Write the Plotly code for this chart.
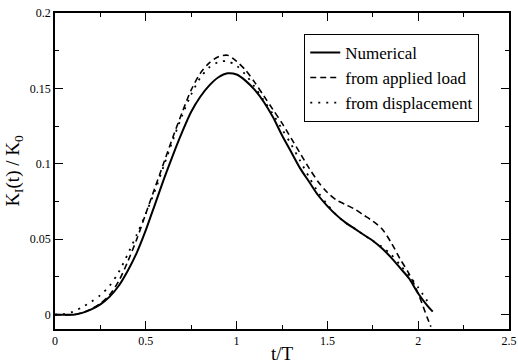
import plotly.graph_objects as go

# --- data ---
t_num = [0, 0.1, 0.15, 0.2, 0.25, 0.3, 0.35, 0.4, 0.45, 0.5, 0.55, 0.6, 0.65, 0.7, 0.75, 0.8,
         0.85, 0.9, 0.95, 1.0, 1.05, 1.1, 1.15, 1.2, 1.25, 1.3, 1.35, 1.4, 1.45, 1.5, 1.55,
         1.6, 1.65, 1.7, 1.75, 1.8, 1.85, 1.9, 1.95, 2.0, 2.05, 2.08]
k_num = [0, 0, 0.0012, 0.0035, 0.0068, 0.0118, 0.019, 0.029, 0.041, 0.056, 0.073, 0.090, 0.106,
         0.121, 0.1345, 0.1445, 0.152, 0.1574, 0.160, 0.1592, 0.155, 0.149, 0.141, 0.131, 0.119,
         0.108, 0.097, 0.088, 0.079, 0.072, 0.066, 0.061, 0.057, 0.053, 0.049, 0.044, 0.038,
         0.031, 0.024, 0.014, 0.006, 0.002]

t_load = [0, 0.1, 0.15, 0.2, 0.25, 0.3, 0.35, 0.4, 0.45, 0.5, 0.55, 0.6, 0.65, 0.7, 0.75, 0.8,
          0.85, 0.9, 0.95, 1.0, 1.05, 1.1, 1.15, 1.2, 1.25, 1.3, 1.35, 1.4, 1.45, 1.5, 1.55,
          1.6, 1.65, 1.7, 1.75, 1.8, 1.85, 1.9, 1.95, 2.0, 2.05, 2.07]
k_load = [0, 0, 0.0013, 0.0038, 0.0075, 0.013, 0.022, 0.035, 0.050, 0.067, 0.084, 0.101, 0.118,
          0.134, 0.149, 0.160, 0.167, 0.171, 0.172, 0.168, 0.162, 0.154, 0.145, 0.136, 0.127,
          0.117, 0.107, 0.097, 0.088, 0.081, 0.076, 0.073, 0.070, 0.066, 0.062, 0.057, 0.048,
          0.037, 0.027, 0.014, -0.002, -0.008]

t_disp = [0, 0.05, 0.1, 0.15, 0.2, 0.25, 0.3, 0.35, 0.4, 0.45, 0.5, 0.55, 0.6, 0.65, 0.7, 0.75,
          0.8, 0.85, 0.9, 0.95, 1.0, 1.05, 1.1, 1.15, 1.2, 1.25, 1.3, 1.35, 1.4, 1.45, 1.5,
          1.55, 1.6, 1.65, 1.7, 1.75, 1.8, 1.85, 1.9, 1.95, 2.0, 2.05]
k_disp = [0, 0.0005, 0.002, 0.005, 0.0085, 0.013, 0.019, 0.028, 0.040, 0.053, 0.067, 0.082,
          0.099, 0.116, 0.132, 0.146, 0.157, 0.164, 0.1675, 0.168, 0.165, 0.159, 0.151, 0.142,
          0.133, 0.123, 0.113, 0.102, 0.091, 0.081, 0.073, 0.066, 0.061, 0.057, 0.053, 0.049,
          0.045, 0.040, 0.033, 0.026, 0.018, 0.009]

x_ticks = [0, 0.5, 1, 1.5, 2, 2.5]
x_labels = ["0", "0.5", "1", "1.5", "2", "2.5"]
y_ticks = [0, 0.05, 0.1, 0.15, 0.2]
y_labels = ["0", "0.05", "0.1", "0.15", "0.2"]

FONT = "Liberation Serif"

fig = go.Figure()
fig.add_trace(go.Scatter(x=t_num, y=k_num, mode="lines", name="Numerical",
                         line=dict(color="black", width=2, shape="spline", smoothing=0.8)))
fig.add_trace(go.Scatter(x=t_load, y=k_load, mode="lines", name="from applied load",
                         line=dict(color="black", width=1.6, dash="6px,4px", shape="spline", smoothing=0.8)))
fig.add_trace(go.Scatter(x=t_disp, y=k_disp, mode="lines", name="from displacement",
                         line=dict(color="black", width=1.8, dash="2px,6px", shape="spline", smoothing=0.8)))

axis_common = dict(
    showline=True, linecolor="black", linewidth=1.5, mirror="allticks",
    ticks="inside", ticklen=8, tickwidth=1, tickcolor="black",
    showgrid=False, zeroline=False, automargin=False,
    tickfont=dict(family=FONT, size=12, color="black"),
)

fig.update_xaxes(range=[0, 2.5], tickmode="array", tickvals=x_ticks, ticktext=x_labels,
                 minor=dict(dtick=0.25, ticks="inside", ticklen=4, tickcolor="black", showgrid=False),
                 title=dict(text="t/T", font=dict(family=FONT, size=19, color="black"), standoff=2),
                 **axis_common)
fig.update_yaxes(range=[-0.0095, 0.2], tickmode="array", tickvals=y_ticks, ticktext=y_labels,
                 minor=dict(dtick=0.025, tick0=0, ticks="inside", ticklen=4, tickcolor="black", showgrid=False),
                 title=dict(text="K<sub>I</sub>(t) / K<sub>0</sub>",
                            font=dict(family=FONT, size=19, color="black"), standoff=5),
                 **axis_common)

fig.update_layout(
    width=518, height=364,
    margin=dict(l=55, r=9, t=13, b=35),
    paper_bgcolor="white", plot_bgcolor="white",
    font=dict(family=FONT, color="black"),
    showlegend=True,
    legend=dict(x=0.549, y=0.934, xanchor="left", yanchor="top",
                bgcolor="white", bordercolor="black", borderwidth=1,
                font=dict(family=FONT, size=17, color="black"),
                tracegroupgap=0, itemwidth=30),
)

fig.write_html("out.html", config={"displayModeBar": False},
               post_script="document.body.style.margin='0';document.body.style.overflow='hidden';")
